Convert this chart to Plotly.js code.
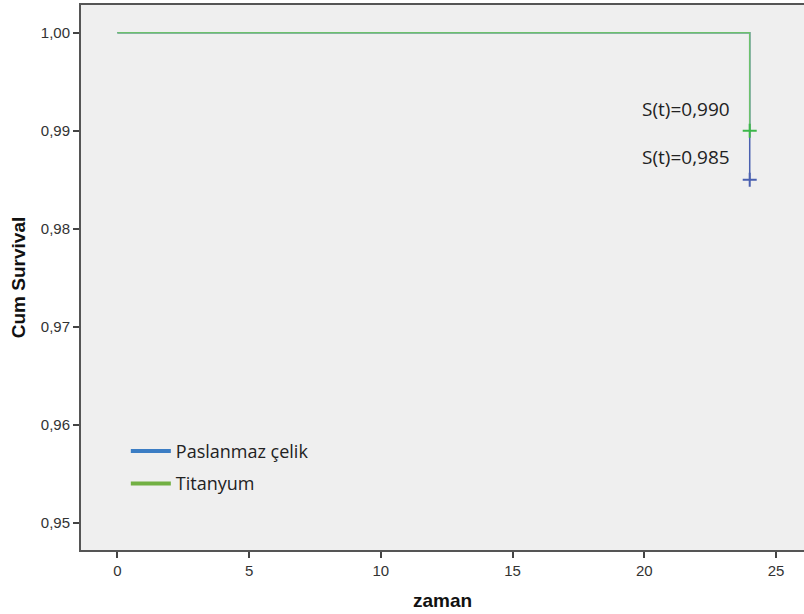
<!DOCTYPE html>
<html>
<head>
<meta charset="utf-8">
<script src="https://cdn.plot.ly/plotly-3.0.1.min.js"></script>
<style>html,body{margin:0;padding:0;background:#fff;}#chart{width:804px;height:614px;}</style>
</head>
<body>
<div id="chart"></div>
<script>
// Data
const seriesNames = ["Paslanmaz çelik", "Titanyum"];
const pasTime = [0, 24, 24];
const pasSurv = [1.0, 1.0, 0.985];
const titTime = [0, 24, 24];
const titSurv = [1.0, 1.0, 0.990];
const censorTime = [24, 24];
const censorSurv = [0.985, 0.990];
const annotTexts = ["S(t)=0,990", "S(t)=0,985"];
const annotX = [21.6, 21.6];
const annotY = [0.99225, 0.98727];
const xTicks = [0, 5, 10, 15, 20, 25];
const yTicks = [0.95, 0.96, 0.97, 0.98, 0.99, 1.00];
const yTickText = ["0,95", "0,96", "0,97", "0,98", "0,99", "1,00"];

const plotBlue = "#4a60b0";
const plotGreen = "#6cc16c";
const legBlue = "#3b7dc4";
const legGreen = "#72b043";
const tickFont = "Liberation Sans Narrow, Arial Narrow, Liberation Sans, sans-serif";

const traces = [
  {x: pasTime, y: pasSurv, mode: "lines", line: {color: plotBlue, width: 1.5}, showlegend: false, hoverinfo: "skip"},
  {x: titTime, y: titSurv, mode: "lines", line: {color: plotGreen, width: 1.5}, showlegend: false, hoverinfo: "skip"},
  {x: [censorTime[0]], y: [censorSurv[0]], mode: "markers", marker: {symbol: "cross-thin", size: 10, line: {color: plotBlue, width: 2}}, showlegend: false},
  {x: [censorTime[1]], y: [censorSurv[1]], mode: "markers", marker: {symbol: "cross-thin", size: 10, line: {color: "#3cb84a", width: 2}}, showlegend: false},
  {x: [null], y: [null], mode: "lines", name: seriesNames[0], line: {color: legBlue, width: 4}, legendgroup: "a"},
  {x: [null], y: [null], mode: "lines", name: seriesNames[1], line: {color: legGreen, width: 4}, legendgroup: "b"}
];

const annotations = annotTexts.map((t, i) => ({
  x: annotX[i], y: annotY[i], xref: "x", yref: "y", text: t, showarrow: false,
  font: {family: "Open Sans, sans-serif", size: 19, color: "#222"}
}));

const layout = {
  width: 804, height: 614,
  margin: {l: 81, r: 0, t: 5, b: 64},
  paper_bgcolor: "#ffffff",
  plot_bgcolor: "#efefef",
  showlegend: true,
  legend: {x: 0.062, y: 0.215, xanchor: "left", yanchor: "top", bgcolor: "rgba(0,0,0,0)",
           font: {family: "Open Sans, sans-serif", size: 18, color: "#222"}, tracegroupgap: 6, itemwidth: 40},
  xaxis: {
    range: [-1.38, 26.06], tickvals: xTicks, ticktext: xTicks.map(String),
    showgrid: false, zeroline: false, ticks: "outside", ticklen: 6, tickwidth: 2, tickcolor: "#444",
    showline: true, linecolor: "#555", linewidth: 2, mirror: true,
    tickfont: {family: tickFont, size: 15, color: "#333"},
    title: {text: "<b>zaman</b>", font: {family: tickFont, size: 19, color: "#111"}, standoff: 16}
  },
  yaxis: {
    range: [0.94721, 1.002827], tickvals: yTicks, ticktext: yTickText,
    showgrid: false, zeroline: false, ticks: "outside", ticklen: 6, tickwidth: 2, tickcolor: "#444",
    showline: true, linecolor: "#555", linewidth: 2, mirror: true,
    tickfont: {family: tickFont, size: 15, color: "#333"},
    title: {text: "<b>Cum Survival</b>", font: {family: tickFont, size: 19, color: "#111"}, standoff: 10}
  },
  annotations: annotations
};

Plotly.newPlot("chart", traces, layout, {displayModeBar: false, staticPlot: true});
</script>
</body>
</html>
